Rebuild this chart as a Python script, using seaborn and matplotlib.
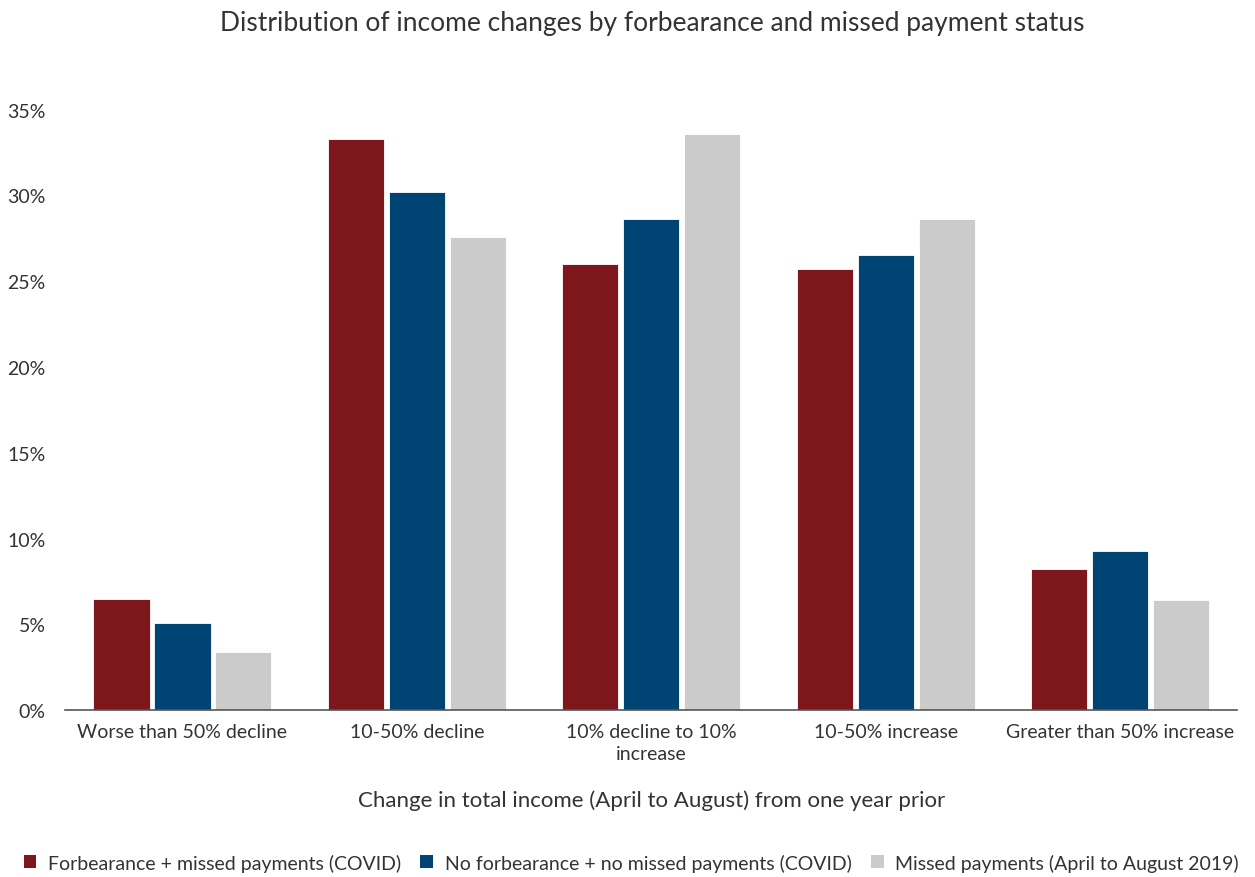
import matplotlib
matplotlib.use("Agg")
import matplotlib.pyplot as plt
import matplotlib.ticker as mticker
from matplotlib.patches import Patch
import seaborn as sns
import pandas as pd

categories = [
    "Worse than 50% decline",
    "10-50% decline",
    "10% decline to 10%\nincrease",
    "10-50% increase",
    "Greater than 50% increase",
]
series_names = [
    "Forbearance + missed payments (COVID)",
    "No forbearance + no missed payments (COVID)",
    "Missed payments (April to August 2019)",
]
forbearance_missed = [6.5, 33.3, 26.0, 25.7, 8.2]
no_forbearance = [5.1, 30.2, 28.6, 26.5, 9.3]
missed_2019 = [3.4, 27.6, 33.6, 28.6, 6.4]
colors = ["#7E171B", "#004474", "#CBCBCB"]

rows = []
for name, vals in zip(series_names, [forbearance_missed, no_forbearance, missed_2019]):
    for cat, v in zip(categories, vals):
        rows.append({"category": cat, "series": name, "value": v})
df = pd.DataFrame(rows)

sns.set_theme(style="white")
plt.rcParams["font.family"] = ["Lato", "DejaVu Sans"]
text_color = "#333333"

fig = plt.figure(figsize=(12.55, 8.78), dpi=100)
ax = fig.add_axes([0.052, 0.19, 0.934, 0.684])

sns.barplot(
    data=df, x="category", y="value", hue="series",
    order=categories, hue_order=series_names,
    palette=colors, width=0.78, gap=0.08, saturation=1,
    edgecolor="white", linewidth=0.6, legend=False, ax=ax,
)

ax.set_xlim(-0.5, 4.5)
ax.set_ylim(0, 35)
ax.yaxis.set_major_locator(mticker.MultipleLocator(5))
ax.yaxis.set_major_formatter(mticker.FuncFormatter(lambda v, p: f"{v:.0f}%"))
ax.tick_params(axis="y", length=0, pad=14, labelsize=14, labelcolor=text_color)
ax.tick_params(axis="x", length=0, pad=9, labelsize=14, labelcolor=text_color)
for lbl in ax.get_xticklabels():
    lbl.set_linespacing(1.35)

for s in ["top", "right", "left"]:
    ax.spines[s].set_visible(False)
ax.spines["bottom"].set_color("#555555")
ax.spines["bottom"].set_linewidth(1.2)

ax.set_ylabel("")
ax.set_xlabel("Change in total income (April to August) from one year prior",
              fontsize=16, color=text_color, labelpad=20)

fig.suptitle("Distribution of income changes by forbearance and missed payment status",
             x=0.52, y=0.988, fontsize=19, color=text_color)

handles = [Patch(facecolor=c, edgecolor="none") for c in colors]
fig.legend(handles, series_names, loc="lower center", bbox_to_anchor=(0.503, -0.016),
           ncol=3, frameon=False, fontsize=14, handlelength=0.65, handleheight=0.65,
           handletextpad=0.6, columnspacing=1.0, borderpad=0.5, labelcolor=text_color)

fig.savefig("out.png", dpi=100, facecolor="white")
